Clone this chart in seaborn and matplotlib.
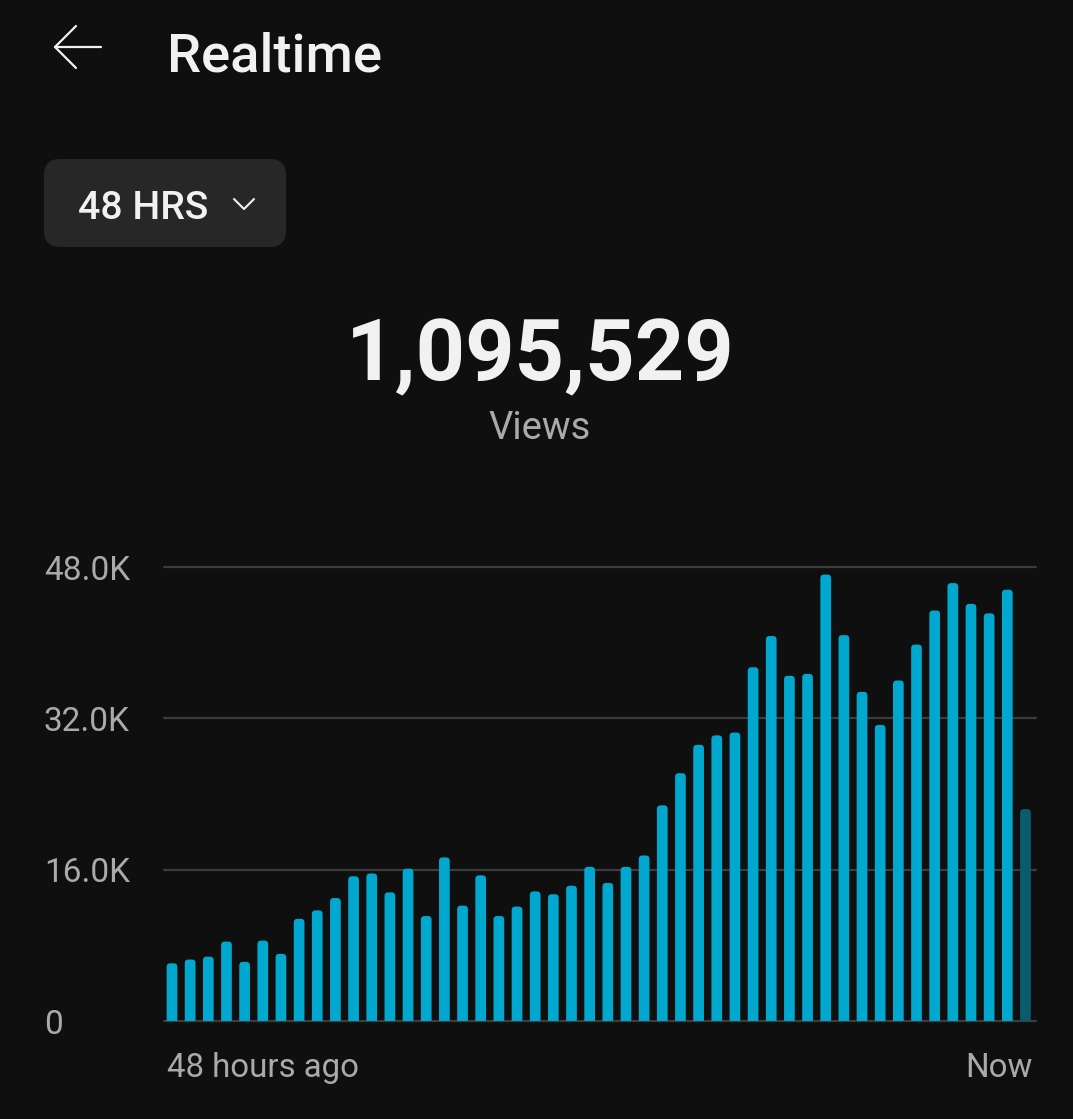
import numpy as np
import pandas as pd
import matplotlib
matplotlib.use('Agg')
import matplotlib.pyplot as plt
import seaborn as sns
from matplotlib.patches import FancyBboxPatch
from matplotlib.lines import Line2D

# 시간별 조회수 (48시간, 마지막은 진행중인 시간)
hours = list(range(48))
views = [6100, 6500, 6800, 8400, 6250, 8500, 7100, 10800, 11700, 13000,
         15300, 15600, 13600, 16100, 11100, 17300, 12200, 15400, 11100, 12100,
         13700, 13400, 14300, 16300, 14600, 16300, 17500, 22800, 26200, 29200,
         30200, 30500, 37400, 40700, 36500, 36700, 47200, 40800, 34800, 31300,
         36000, 39800, 43400, 46300, 44100, 43100, 45600, 22400]
status = ['done'] * 47 + ['now']
y_ticks = [0, 16000, 32000, 48000]
y_labels = ['0', '16.0K', '32.0K', '48.0K']
x_labels = ['48 hours ago', 'Now']
total_views = '1,095,529'

BG = '#0f0f0f'
BAR = '#00a7ce'
BAR_NOW = '#0b5a6e'
GRID = '#3c3c3c'
GRAY = '#aaaaaa'
WHITE = '#f1f1f1'

sns.set_style('dark')
plt.rcParams['font.family'] = ['Roboto', 'DejaVu Sans']

df = pd.DataFrame({'hour': hours, 'views': views, 'status': status})

W, H = 1073, 1119
fig = plt.figure(figsize=(W / 100, H / 100), dpi=100, facecolor=BG)
ax = fig.add_axes([164 / W, 98 / H, 872 / W, 454 / H])
ax.set_facecolor(BG)

bar_w = 0.59
sns.barplot(data=df, x='hour', y='views', hue='status',
            palette={'done': BAR, 'now': BAR_NOW}, dodge=False,
            width=bar_w, legend=False, ax=ax, saturation=1)

# 막대 윗부분 둥글게
r_x = 0.2
r_y = 380
for p in list(ax.patches):
    x0, w, h = p.get_x(), p.get_width(), p.get_height()
    if h <= 0:
        continue
    fc = p.get_facecolor()
    p.remove()
    rp = FancyBboxPatch((x0, -r_y), w, h + r_y,
                        boxstyle=f'round,pad=0,rounding_size={r_x}',
                        mutation_aspect=r_y / r_x,
                        facecolor=fc, edgecolor='none', zorder=2)
    ax.add_patch(rp)

ax.set_xlim(-0.44, 47.58)
ax.set_ylim(0, 48000)
for s in ax.spines.values():
    s.set_visible(False)

ax.set_yticks(y_ticks)
ax.set_yticklabels(y_labels)
ax.grid(axis='y', color=GRID, linewidth=1.6)
ax.grid(axis='x', visible=False)
ax.set_axisbelow(True)
for gl in ax.get_ygridlines():
    gl.set_clip_on(False)
ax.tick_params(axis='y', length=0, pad=86.4, labelsize=24, labelcolor=GRAY)
for t in ax.get_yticklabels():
    t.set_ha('left')

ax.set_xticks([hours[0] - bar_w / 2, hours[-1] + bar_w / 2 + 0.1])
ax.set_xticklabels(x_labels)
ax.tick_params(axis='x', length=0, pad=22, labelsize=23.8, labelcolor=GRAY)
xt = ax.get_xticklabels()
xt[0].set_ha('left')
xt[1].set_ha('right')
ax.set_xlabel('')
ax.set_ylabel('')

# 상단 헤더
inch = fig.dpi_scale_trans
def px(x, y):
    return x / 100, (H - y) / 100

arrow = [((55, 47), (101, 47)), ((55, 47), (76, 26)), ((55, 47), (76, 68))]
for a, b in arrow:
    (x1, y1), (x2, y2) = px(*a), px(*b)
    fig.add_artist(Line2D([x1, x2], [y1, y2], transform=inch, color=WHITE,
                          linewidth=1.6, solid_capstyle='round'))

fig.text(167 / W, 1 - 72 / H, 'Realtime', color=WHITE, fontsize=39.2,
         fontweight='medium', va='baseline', ha='left')

# 48 HRS 버튼
bx, by = px(44, 247)
btn = FancyBboxPatch((bx, by), 2.42, 0.88, boxstyle='round,pad=0,rounding_size=0.16',
                     transform=inch, facecolor='#272727', edgecolor='none')
fig.add_artist(btn)
fig.text(78 / W, 1 - 219 / H, '48 HRS', color=WHITE, fontsize=28.2,
         fontweight='medium', va='baseline', ha='left')
c1, c2, c3 = px(234, 199), px(244, 209), px(254, 199)
fig.add_artist(Line2D([c1[0], c2[0], c3[0]], [c1[1], c2[1], c3[1]], transform=inch,
                      color=WHITE, linewidth=1.5))

fig.text(540 / W, 1 - 380 / H, total_views, color=WHITE, fontsize=62.2,
         fontweight='bold', va='baseline', ha='center')
fig.text(540 / W, 1 - 439 / H, 'Views', color=GRAY, fontsize=27.5,
         va='baseline', ha='center')

fig.savefig('out.png', dpi=100, facecolor=BG)
